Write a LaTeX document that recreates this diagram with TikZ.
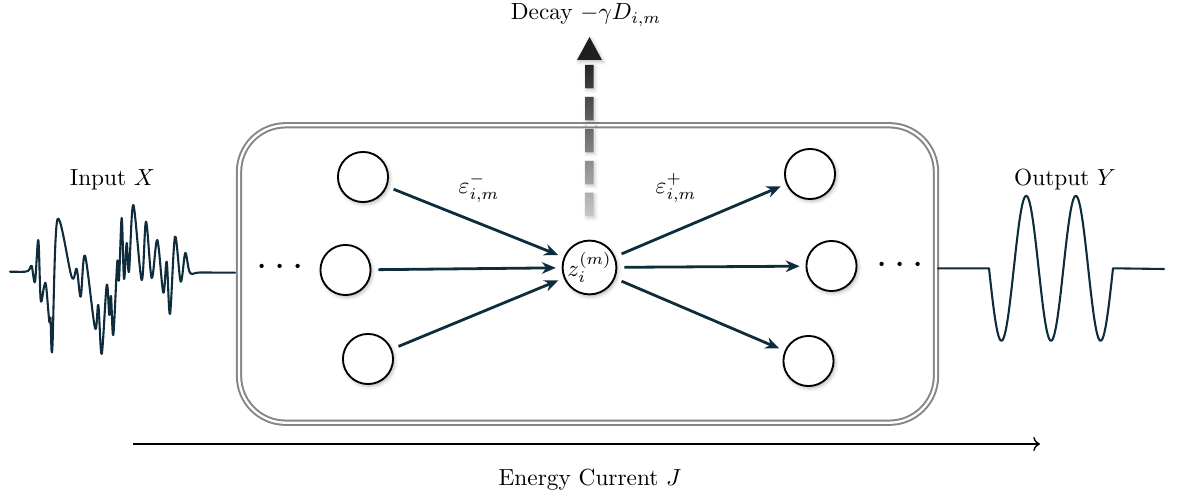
\documentclass[tikz,border=0pt]{standalone}
\usetikzlibrary{arrows.meta,shadows.blur,calc}
\definecolor{navy}{HTML}{0F2C3C}
\definecolor{boxgray}{HTML}{858585}
\begin{document}
\begin{tikzpicture}[x=0.429pt,y=-0.429pt,
  neuron/.style={circle,draw=black,thick,fill=white,minimum size=21.5pt,inner sep=0pt,
    blur shadow={shadow xshift=0.7pt,shadow yshift=-0.9pt,shadow blur radius=1.6pt,shadow opacity=30}},
  flow/.style={draw=navy,line width=1.2pt,-{Stealth[length=6pt,width=5pt]},shorten <=3pt,shorten >=2.5pt},
  signal/.style={draw=navy,line width=0.9pt,line join=round,line cap=round},
  ebox/.style={draw=boxgray,double,double distance=1pt,line width=0.85pt,rounded corners=20pt,
    minimum width=299pt,minimum height=127.6pt,inner sep=0pt},
  dotsnode/.style={font=\LARGE,inner sep=0pt},
  txt/.style={inner sep=1pt}]
\useasboundingbox (0,0) rectangle (1187,499);

% container
\node[ebox] (box) at (587.5,274) {};

% input signal
\draw[signal] plot[smooth,tension=0.55] coordinates {
 (10,271.7) (25,271.7) (29,270) (31.7,266) (35,281.7) (38.3,240) (40.7,300) (44,287) (46,285)
 (49.3,321.7) (50.5,318) (52.3,349.3) (57.3,220) (71.7,277) (76.7,269) (80.7,296.7) (85,255.7)
 (95,328) (98.3,305) (101.7,354) (106.7,285) (109.3,315) (111,296) (113.3,335) (117.3,261.7)
 (119,280) (121.7,218) (124,279) (126.7,243) (129,271.7) (133.3,205) (141.7,280) (146,221.7)
 (151.7,278) (157.3,240) (163.3,292.7) (166.7,261.7) (170,314) (175,236.7) (180.7,281.7)
 (185.3,253) (190,272.7) (200,272.5) (235,272.7)};

% output signal
\draw[signal] (938,268.3) -- (989,268.3)
  -- plot[domain=0:124,samples=120] ({989+\x},{268.3+72.5*sin(7.2581*\x)})
  -- (1164,269);

% labels
\node[txt] (inlbl) at (112.5,180) {Input $X$};
\node[txt] (outlbl) at (1065,180) {Output $Y$};

% neurons
\node[neuron] (l1) at (363,177) {};
\node[neuron] (l2) at (345.5,270) {};
\node[neuron] (l3) at (368,359) {};
\node[neuron,minimum size=22.5pt] (c) at (589.5,267.5) {$z_i^{(m)}$};
\node[neuron] (r1) at (810,174) {};
\node[neuron] (r2) at (831.5,266) {};
\node[neuron] (r3) at (808.5,361) {};

\node[dotsnode] (ldots) at (280,268) {$\cdots$};
\node[dotsnode] (rdots) at (900,266) {$\cdots$};

% connections
\draw[flow] (l1) -- (c);
\draw[flow] (l2) -- (c);
\draw[flow] (l3) -- (c);
\draw[flow] (c) -- (r1);
\draw[flow] (c) -- (r2);
\draw[flow] (c) -- (r3);

\node[txt] (em) at (479,188) {$\varepsilon^-_{i,m}$};
\node[txt] (ep) at (676,188) {$\varepsilon^+_{i,m}$};

% decay arrow
\coordinate (dtip) at (589.5,37);
\shade[top color=black!85,bottom color=black!22,
  blur shadow={shadow xshift=0.6pt,shadow yshift=-0.8pt,shadow blur radius=1.5pt,shadow opacity=20}]
  (585.3,65) rectangle (593.7,88.5)
  (585.3,96.9) rectangle (593.7,120.4)
  (585.3,128.8) rectangle (593.7,152.3)
  (585.3,160.8) rectangle (593.7,184.3)
  (585.3,192.7) rectangle (593.7,216.2);
\fill[black!88,blur shadow={shadow xshift=0.6pt,shadow yshift=-0.8pt,shadow blur radius=1.5pt,shadow opacity=25}]
  ($(dtip)+(-12.5,23)$) -- (dtip) -- ($(dtip)+(12.5,23)$) -- cycle;
\node[txt] (decay) at (586,15) {Decay $-\gamma D_{i,m}$};

% energy current
\coordinate (js) at (133,444);
\coordinate (je) at (1040,444);
\draw[semithick,->] (js) -- (je);
\node[txt] (jlbl) at (590,480) {Energy Current $J$};
\end{tikzpicture}
\end{document}
